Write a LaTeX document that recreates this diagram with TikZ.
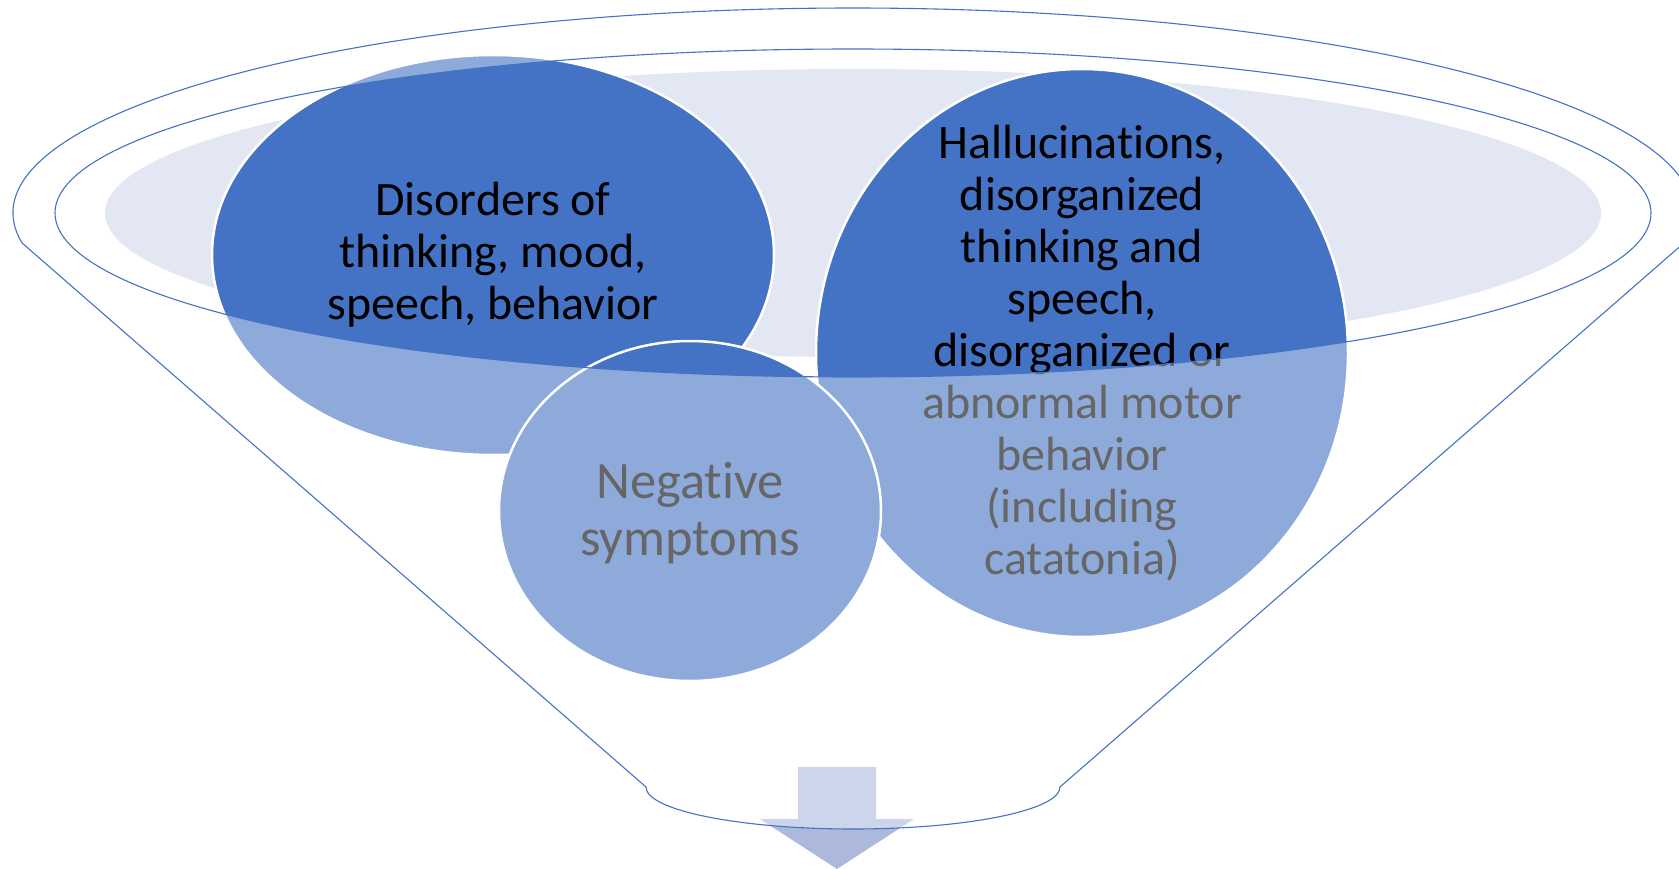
\documentclass[tikz,border=0pt]{standalone}
\usepackage{fontspec}
\setmainfont{Carlito}[Ligatures={NoCommon}]
\usetikzlibrary{shapes.geometric}
\definecolor{accent}{HTML}{4472C4}
\definecolor{pool}{HTML}{E3E7F3}
\definecolor{arrowfill}{HTML}{ADB9DC}
\begin{document}
\begin{tikzpicture}[x=1pt,y=-1pt,
  blob/.style={ellipse, fill=accent, draw=white, line width=2.5pt, inner sep=0pt},
  blobtext/.style={align=center, font=\fontsize{48}{52}\selectfont, text=black, inner sep=0pt},
  bigtext/.style={blobtext, font=\fontsize{52.5}{57}\selectfont},
  rim/.style={draw=accent, line width=1.1pt},
]
\useasboundingbox (0,0) rectangle (1679,869);
\clip (0,0) rectangle (1679,869);

% liquid surface inside the mouth of the funnel
\fill[pool] (853,213) ellipse [x radius=748pt, y radius=144pt];

% the three items poured into the funnel
\node[blob, minimum width=562pt, minimum height=400pt] (c1) at (493,255) {};
\node[blobtext] (t1) at (c1.center) {Disorders of\\thinking, mood,\\speech, behavior};

\node[blob, minimum width=532pt, minimum height=568pt] (c2) at (1082,353) {};
\node[blobtext] (t2) at (c2.center) {Hallucinations,\\disorganized\\thinking and\\speech,\\disorganized or\\abnormal motor\\behavior\\(including\\catatonia)};

\node[blob, minimum width=382pt, minimum height=340pt] (c3) at (690,511) {};
\node[bigtext] (t3) at ([yshift=-2pt]c3.center) {Negative\\symptoms};

% output arrow below the spout
\fill[arrowfill] (798,767) -- (876,767) -- (876,819) -- (914,819) -- (837,869)
  -- (760,819) -- (798,819) -- cycle;

% translucent funnel body (the mouth opening is left clear)
\path[fill=white, fill opacity=0.4, even odd rule]
  ([shift={(853,213)}]188.4:840pt and 205pt)
    arc[start angle=188.4, end angle=-8.4, x radius=840pt, y radius=205pt]
  -- (1060,787) arc[start angle=0, end angle=-180, x radius=207pt, y radius=42pt]
  -- cycle
  (853,213) ellipse [x radius=798pt, y radius=164pt];

% funnel outline and inner rim
\path[rim]
  ([shift={(853,213)}]188.4:840pt and 205pt)
    arc[start angle=188.4, end angle=-8.4, x radius=840pt, y radius=205pt]
  -- (1060,787) arc[start angle=0, end angle=-180, x radius=207pt, y radius=42pt]
  -- cycle;
\draw[rim] (853,213) ellipse [x radius=798pt, y radius=164pt];
\end{tikzpicture}
\end{document}
